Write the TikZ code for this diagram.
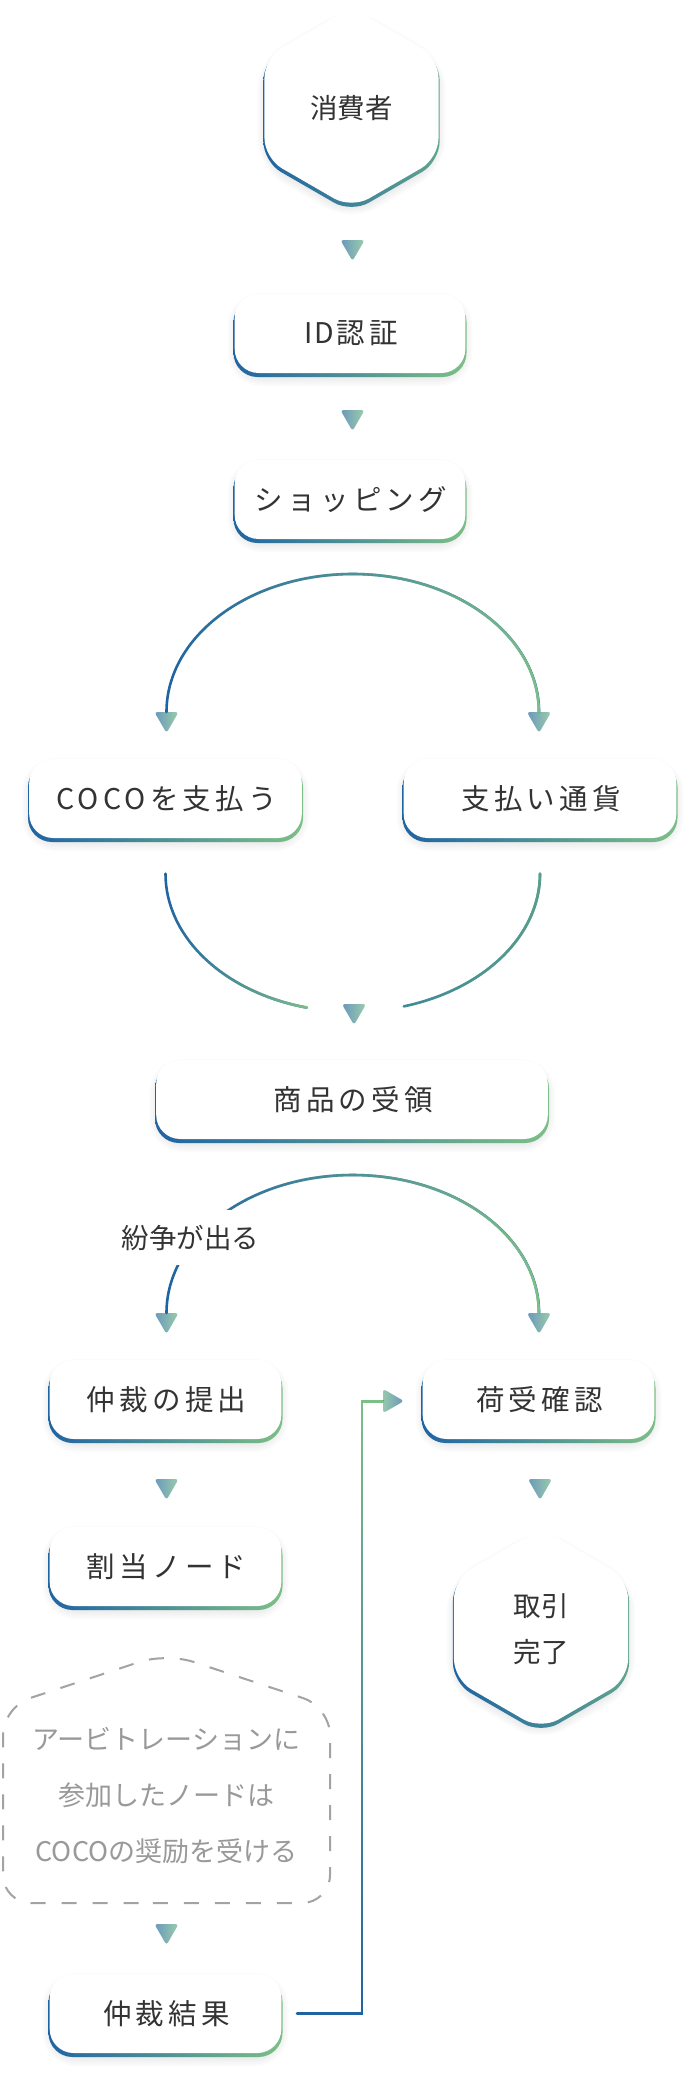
\documentclass[tikz,border=0pt]{standalone}
\usepackage{fontspec}
\usetikzlibrary{shapes.geometric,fadings,calc}
\newfontfamily\jpfont{Noto Sans CJK JP}
\newfontfamily\jpwide[LetterSpace=15]{Noto Sans CJK JP}
\definecolor{cblue}{HTML}{1F64A3}
\definecolor{cgreen}{HTML}{7DBF87}
\definecolor{cteal}{HTML}{3E8A98}
\definecolor{cteal2}{HTML}{5A9E8A}
\definecolor{tblue}{HTML}{6A98BC}
\definecolor{tgreen}{HTML}{9ACDAA}
\definecolor{txt}{HTML}{333333}
\definecolor{dgray}{HTML}{A3A3A3}
\definecolor{tgray}{HTML}{999999}
\tikzset{
  shadowlayer/.style={fill=black, fill opacity=0.017, draw=none, inner sep=0pt, yshift=-6pt},
  boxnode/.style={rectangle, fill=white, rounded corners=24pt, minimum height=79pt, inner sep=0pt, text=txt, font=\jpwide\fontsize{28.5pt}{32pt}\selectfont},
  boxshade/.style={rectangle, rounded corners=24pt, minimum height=79pt, inner sep=0pt, yshift=-4pt, left color=cblue, right color=cgreen, draw=none},
  hexnode/.style={regular polygon, regular polygon sides=6, shape border rotate=30, minimum size=201pt, inner sep=0pt, rounded corners=20pt, fill=white, text=txt, align=center, font=\jpfont\fontsize{27.5pt}{46pt}\selectfont},
  hexshade/.style={regular polygon, regular polygon sides=6, shape border rotate=30, minimum size=203.4pt, inner sep=0pt, rounded corners=20pt, yshift=-3pt, left color=cblue, right color=cgreen!70!cblue, draw=none},
  tri/.style={regular polygon, regular polygon sides=3, shape border rotate=180, minimum size=28pt, inner sep=0pt, rounded corners=3pt, left color=tblue, right color=tgreen, draw=none},
  trir/.style={regular polygon, regular polygon sides=3, shape border rotate=-90, minimum size=28pt, inner sep=0pt, rounded corners=3pt, left color=tgreen!90!tblue, right color=tblue, draw=none},
  flow/.style={line width=2.6pt, line cap=round},
  lbl/.style={fill=white, inner xsep=3pt, inner ysep=15pt, text=txt, font=\jpfont\fontsize{27.5pt}{32pt}\selectfont},
  dashtext/.style={text=tgray, align=center, inner sep=0pt, font=\jpfont\fontsize{27pt}{56pt}\selectfont},
  dashline/.style={draw=dgray, line width=2pt, dash pattern=on 15pt off 16pt, rounded corners=28pt},
}
% name, x, y, width, text
\newcommand\flowbox[5]{%
  \foreach \k in {0,...,5}{%
    \node[shadowlayer, rectangle, rounded corners=24pt+2*\k pt, minimum width=#4pt-8pt+4*\k pt, minimum height=73pt+4*\k pt] (#1-sh\k) at (#2,#3) {};}
  \node[boxshade, minimum width=#4pt] (#1-s) at (#2,#3) {};
  \node[boxnode, minimum width=#4pt-2.4pt] (#1) at (#2,#3) {\kern2.1pt#5};}
% name, x, y, text
\newcommand\hexbox[4]{%
  \foreach \k in {0,...,5}{%
    \node[shadowlayer, regular polygon, regular polygon sides=6, shape border rotate=30, rounded corners=20pt+2*\k pt, minimum size=195pt+4.5*\k pt] (#1-sh\k) at (#2,#3) {};}
  \node[hexshade] (#1-s) at (#2,#3) {};
  \node[hexnode] (#1) at (#2,#3) {#4};}
% [fading]{colour 1}{colour 2}{path}: colour 1 at the faded side, colour 2 at the other
\newcommand\gline[4][west]{%
  \draw[flow,#2] #4;
  \draw[flow,#3,path fading=#1] #4;}
\begin{document}
\begin{tikzpicture}[x=1pt,y=-1pt]
\useasboundingbox (0,0) rectangle (694,2078);
\fill[white] (0,0) rectangle (694,2078);

\hexbox{cons}{351.5}{108}{消費者}
\node[tri] (t1) at (352.5,247) {};
\flowbox{id}{350}{333.5}{233}{{\jpfont I\kern1.5pt D}\kern3pt認証}
\node[tri] (t2) at (352.5,417) {};
\flowbox{shop}{350}{499.5}{233}{ショッピング}
\node[tri] (t3) at (166.5,719) {};
\node[tri] (t4) at (539,719) {};
\flowbox{coco}{165.5}{798.5}{275}{COCOを支払う}
\flowbox{curr}{540}{798.5}{275}{支払い通貨}
\node[tri] (t5) at (354,1011) {};
\flowbox{recv}{352}{1099.5}{394}{商品の受領}
\node[tri] (t6) at (166.5,1320) {};
\node[tri] (t7) at (539,1320) {};
\flowbox{arb}{165.5}{1399.5}{234}{仲裁の提出}
\flowbox{conf}{538.5}{1399.5}{234}{荷受確認}
\node[tri] (t8) at (166.5,1486) {};
\node[tri] (t9) at (540,1486) {};
\flowbox{assign}{165.5}{1566.5}{234}{割当ノード}
\hexbox{done}{541}{1629}{取引\\完了}
\node[dashtext] (reward) at (166.5,1796) {アービトレーションに\\参加したノードは\\COCOの奨励を受ける};
\draw[dashline] (166.5,1903) -- (3,1903) -- (3,1707) -- (166.5,1653) -- (330,1707) -- (330,1903) -- cycle;
\node[tri] (t10) at (166.5,1931) {};
\flowbox{result}{165.5}{2013.5}{234}{仲裁結果}
\node[trir] (t11) at (390,1401) {};

% connectors
\gline{cblue}{cgreen}{([yshift=7pt]t3.center) arc[start angle=180, end angle=0, x radius=186.25pt, y radius=138pt]}
\gline{cblue}{cgreen}{([yshift=-35.5pt]coco.south) arc[start angle=180, end angle=256, x radius=186.5pt, y radius=138pt]}
\gline{cteal}{cteal2}{([yshift=-35.5pt]curr.south) arc[start angle=0, end angle=-74, x radius=188pt, y radius=138pt]}
\gline{cblue}{cgreen}{([yshift=7pt]t6.center) arc[start angle=180, end angle=0, x radius=186.25pt, y radius=138pt]}
\node[lbl] (dispute) at (190.5,1237.5) {紛争が出る};
\begin{scope}[line cap=butt]
\gline[south]{cblue}{cgreen}{([xshift=15.5pt]result.east) -| ([xshift=-28pt]t11.center) -- ([xshift=-7pt]t11.center)}
\end{scope}
\end{tikzpicture}
\end{document}
